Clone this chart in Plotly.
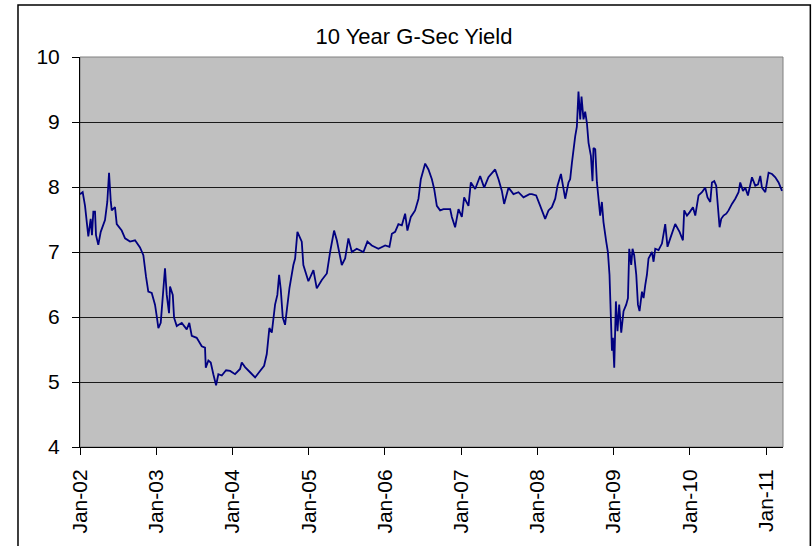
import plotly.graph_objects as go

# Time as decimal years, yield in %
years = [
    2002.000, 2002.035, 2002.066, 2002.109, 2002.140, 2002.157, 2002.175, 2002.197, 2002.210, 2002.240,
    2002.272, 2002.328, 2002.358, 2002.381, 2002.403, 2002.416, 2002.459, 2002.482, 2002.547, 2002.591,
    2002.656, 2002.722, 2002.787, 2002.831, 2002.866, 2002.896, 2002.941, 2002.984, 2003.007, 2003.028,
    2003.059, 2003.085, 2003.115, 2003.138, 2003.168, 2003.181, 2003.217, 2003.234, 2003.269, 2003.335,
    2003.400, 2003.434, 2003.466, 2003.531, 2003.597, 2003.640, 2003.650, 2003.684, 2003.715, 2003.749,
    2003.785, 2003.815, 2003.860, 2003.916, 2003.969, 2004.034, 2004.100, 2004.122, 2004.165, 2004.231,
    2004.297, 2004.362, 2004.415, 2004.450, 2004.484, 2004.516, 2004.559, 2004.589, 2004.612, 2004.634,
    2004.660, 2004.690, 2004.713, 2004.747, 2004.799, 2004.822, 2004.852, 2004.887, 2004.909, 2004.930,
    2004.975, 2004.996, 2005.062, 2005.106, 2005.172, 2005.238, 2005.281, 2005.333, 2005.369, 2005.403,
    2005.434, 2005.478, 2005.521, 2005.566, 2005.631, 2005.718, 2005.770, 2005.828, 2005.915, 2006.003,
    2006.059, 2006.091, 2006.134, 2006.177, 2006.222, 2006.265, 2006.295, 2006.340, 2006.396, 2006.440,
    2006.471, 2006.528, 2006.571, 2006.616, 2006.646, 2006.681, 2006.724, 2006.768, 2006.812, 2006.856,
    2006.878, 2006.921, 2006.965, 2007.009, 2007.039, 2007.096, 2007.127, 2007.184, 2007.249, 2007.302,
    2007.358, 2007.446, 2007.490, 2007.534, 2007.564, 2007.621, 2007.686, 2007.752, 2007.818, 2007.896,
    2007.928, 2007.984, 2008.037, 2008.102, 2008.146, 2008.190, 2008.234, 2008.264, 2008.309, 2008.343,
    2008.365, 2008.408, 2008.430, 2008.453, 2008.474, 2008.496, 2008.518, 2008.539, 2008.562, 2008.579,
    2008.605, 2008.627, 2008.650, 2008.671, 2008.702, 2008.723, 2008.736, 2008.759, 2008.781, 2008.802,
    2008.824, 2008.846, 2008.867, 2008.903, 2008.925, 2008.946, 2008.964, 2008.978, 2008.991, 2009.008,
    2009.030, 2009.051, 2009.073, 2009.100, 2009.130, 2009.165, 2009.188, 2009.205, 2009.231, 2009.248,
    2009.270, 2009.297, 2009.319, 2009.340, 2009.372, 2009.393, 2009.415, 2009.437, 2009.458, 2009.503,
    2009.524, 2009.546, 2009.589, 2009.634, 2009.677, 2009.707, 2009.743, 2009.808, 2009.865, 2009.909,
    2009.926, 2009.962, 2009.996, 2010.041, 2010.071, 2010.114, 2010.159, 2010.202, 2010.232, 2010.268,
    2010.290, 2010.320, 2010.346, 2010.364, 2010.390, 2010.412, 2010.442, 2010.478, 2010.508, 2010.552,
    2010.596, 2010.639, 2010.661, 2010.697, 2010.727, 2010.762, 2010.815, 2010.858, 2010.894, 2010.924,
    2010.946, 2010.990, 2011.033, 2011.078, 2011.121, 2011.164, 2011.209,
]

yield_pct = [
    7.89, 7.92, 7.71, 7.24, 7.51, 7.26, 7.62, 7.62, 7.26, 7.11,
    7.31, 7.49, 7.77, 8.22, 7.79, 7.64, 7.69, 7.43, 7.33, 7.21,
    7.16, 7.18, 7.07, 6.95, 6.62, 6.39, 6.37, 6.19, 6.01, 5.83,
    5.91, 6.34, 6.75, 6.34, 6.06, 6.47, 6.34, 5.99, 5.86, 5.91,
    5.81, 5.91, 5.71, 5.68, 5.55, 5.53, 5.22, 5.33, 5.30, 5.12,
    4.95, 5.12, 5.10, 5.18, 5.17, 5.12, 5.20, 5.30, 5.23, 5.15,
    5.07, 5.17, 5.25, 5.43, 5.83, 5.76, 6.19, 6.34, 6.65, 6.42,
    5.99, 5.88, 6.14, 6.44, 6.80, 6.90, 7.31, 7.21, 7.16, 6.80,
    6.65, 6.55, 6.72, 6.44, 6.57, 6.67, 7.00, 7.33, 7.18, 7.00,
    6.80, 6.90, 7.21, 7.00, 7.05, 7.00, 7.16, 7.10, 7.05, 7.10,
    7.08, 7.28, 7.31, 7.43, 7.41, 7.59, 7.33, 7.54, 7.64, 7.82,
    8.12, 8.36, 8.27, 8.12, 7.97, 7.71, 7.64, 7.66, 7.66, 7.66,
    7.54, 7.38, 7.66, 7.54, 7.84, 7.71, 8.07, 7.97, 8.17, 7.99,
    8.15, 8.27, 8.12, 7.94, 7.74, 7.99, 7.89, 7.92, 7.84, 7.89,
    7.89, 7.87, 7.71, 7.51, 7.64, 7.69, 7.82, 8.02, 8.20, 7.94,
    7.82, 8.07, 8.12, 8.37, 8.63, 8.78, 8.93, 9.47, 9.04, 9.39,
    9.04, 9.16, 8.98, 8.68, 8.48, 8.09, 8.60, 8.58, 8.07, 7.82,
    7.56, 7.77, 7.46, 7.16, 7.00, 6.65, 6.14, 5.48, 5.68, 5.22,
    6.24, 5.78, 6.19, 5.76, 6.09, 6.19, 6.29, 7.05, 6.80, 7.05,
    6.95, 6.65, 6.19, 6.09, 6.39, 6.29, 6.49, 6.65, 6.90, 7.00,
    6.85, 7.05, 7.03, 7.13, 7.43, 7.08, 7.21, 7.43, 7.31, 7.18,
    7.64, 7.56, 7.61, 7.69, 7.56, 7.87, 7.92, 7.99, 7.84, 7.77,
    8.07, 8.09, 8.02, 7.71, 7.38, 7.51, 7.56, 7.59, 7.64, 7.74,
    7.82, 7.92, 8.07, 7.94, 7.99, 7.87, 8.15, 8.02, 8.04, 8.17,
    7.99, 7.92, 8.22, 8.20, 8.15, 8.07, 7.94,
]

tick_years = [2002, 2003, 2004, 2005, 2006, 2007, 2008, 2009, 2010, 2011]
tick_labels = ["Jan-02", "Jan-03", "Jan-04", "Jan-05", "Jan-06",
               "Jan-07", "Jan-08", "Jan-09", "Jan-10", "Jan-11"]
y_ticks = [4, 5, 6, 7, 8, 9, 10]

FONT = "Liberation Sans, Arial, sans-serif"

fig = go.Figure()
fig.add_trace(go.Scatter(
    x=years, y=yield_pct, mode="lines",
    line=dict(color="#000080", width=1.8),
    showlegend=False, hoverinfo="x+y",
))

fig.update_layout(
    width=812, height=546,
    margin=dict(l=80, r=29, t=57, b=95),
    paper_bgcolor="white",
    plot_bgcolor="#C0C0C0",
    font=dict(family=FONT, color="black", size=21),
    title=dict(text="10 Year G-Sec Yield", x=414 / 812, xref="container", xanchor="center",
               y=1 - 36 / 546, yref="container", yanchor="middle",
               font=dict(family=FONT, size=22, color="black")),
    shapes=[
        dict(type="rect", xref="paper", yref="paper", x0=0, x1=1, y0=0, y1=1,
             line=dict(color="#808080", width=1), layer="below"),
        dict(type="rect", xref="paper", yref="paper", x0=-0.0882, x1=1.0389,
             y0=-0.3, y1=1.1336, line=dict(color="black", width=1.5), layer="above"),
    ],
)

fig.update_xaxes(
    range=[2002, 2011.222],
    tickmode="array", tickvals=tick_years, ticktext=tick_labels,
    tickangle=-90, ticks="outside", ticklen=7, tickcolor="black", tickwidth=1,
    showline=True, linecolor="black", linewidth=1,
    showgrid=False, zeroline=False,
    tickfont=dict(family=FONT, size=21, color="black"),
    ticklabelstandoff=6,
)
fig.update_yaxes(
    range=[4, 10],
    tickmode="array", tickvals=y_ticks,
    ticks="outside", ticklen=7, tickcolor="black", tickwidth=1,
    showline=True, linecolor="black", linewidth=1,
    showgrid=True, gridcolor="#1a1a1a", gridwidth=1, zeroline=False,
    tickfont=dict(family=FONT, size=21, color="black"),
    ticklabelstandoff=8,
)

fig.write_html("out.html", config={"displayModeBar": False},
               post_script="document.body.style.margin='0';")
